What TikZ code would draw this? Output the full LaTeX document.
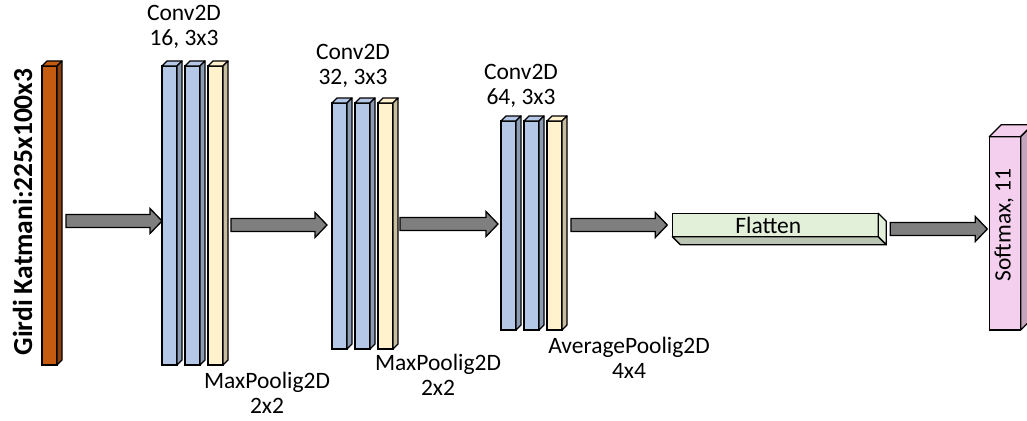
\documentclass[tikz,border=0pt]{standalone}
\usepackage{fontspec}
\setmainfont{Carlito}
\usetikzlibrary{calc}
\definecolor{inorange}{HTML}{C55A11}
\definecolor{convblue}{HTML}{B4C7E7}
\definecolor{poolyellow}{HTML}{FFF2CC}
\definecolor{flatgreen}{HTML}{E2F0D9}
\definecolor{softpink}{HTML}{F4D0EE}
\definecolor{arrowgrey}{HTML}{7F7F7F}
\tikzset{
  slab/.style={draw, line width=1.3pt, inner sep=0pt, outer sep=0pt, minimum width=15},
  face/.style={draw, line width=1.3pt, line join=round},
  barrow/.style={draw, line width=1.3pt, line join=miter, fill=arrowgrey},
  lbl/.style={font=\fontsize{23.5}{25}\selectfont, align=center, inner sep=0pt},
}
% block arrow: from node, to node, y, gap at start, gap at end
\newcommand{\barrow}[5]{%
  \draw[barrow] let \p1=([xshift=#4]#1.east), \p2=([xshift=-#5]#2.west), \p3=(0,#3) in
    (\x1,\y3+6.5pt) -- (\x2-12pt,\y3+6.5pt) -- (\x2-12pt,\y3+12.5pt) -- (\x2,\y3)
    -- (\x2-12pt,\y3-12.5pt) -- (\x2-12pt,\y3-6.5pt) -- (\x1,\y3-6.5pt) -- cycle;}
\begin{document}
\begin{tikzpicture}[x=1pt, y=-1pt]
  \useasboundingbox[fill=white] (0,0) rectangle (1027,420);
  % input layer
  \node[slab, fill=inorange, minimum height=299] (in) at (49.5,215.5) {};
  \draw[face, fill=inorange] (in.north west) -- ++(5,-5) -- ++(15,0) -- (in.north east) -- cycle;
  \draw[face, fill=inorange!70!black] (in.north east) -- ++(5,-5) -- ([shift={(5,-5)}]in.south east) -- (in.south east) -- cycle;
  \node[font=\fontsize{27.5}{30}\selectfont\bfseries, rotate=90] (intext) at (22.5,212) {Girdi Katmani:225x100x3};
  % conv blocks
  \foreach \n/\x/\t/\b in {1/162/66/365, 2/332/103/349, 3/501/121/330}{
    \foreach \k/\dx/\col in {a/0/convblue, b/23/convblue, c/46/poolyellow}{
      \node[slab, fill=\col, minimum height={\b-\t}] (c\n\k) at ({\x+\dx+7.5},{(\t+\b)/2}) {};
      \draw[face, fill=\col] (c\n\k.north west) -- ++(5,-5) -- ++(15,0) -- (c\n\k.north east) -- cycle;
      \draw[face, fill=\col!78!black] (c\n\k.north east) -- ++(5,-5) -- ([shift={(5,-5)}]c\n\k.south east) -- (c\n\k.south east) -- cycle;
    }
  }
  \node[lbl] (conv1) at (184,27) {Conv2D\\16, 3x3};
  \node[lbl] (conv2) at (353,66) {Conv2D\\32, 3x3};
  \node[lbl] (conv3) at (521,86) {Conv2D\\64, 3x3};
  \node[lbl] (pool1) at (267,393) {MaxPoolig2D\\2x2};
  \node[lbl] (pool2) at (438,375) {MaxPoolig2D\\2x2};
  \node[lbl] (pool3) at (629,358) {AveragePoolig2D\\4x4};
  % flatten
  \node[slab, fill=flatgreen, minimum width=206, minimum height=23.4, font=\fontsize{23.5}{26}\selectfont] (flat) at (775.3,225) {\hspace*{-14pt}Flatten};
  \draw[face, fill=flatgreen!82!black] (flat.south west) -- ++(8,8) -- ([shift={(8,8)}]flat.south east) -- (flat.south east) -- cycle;
  \draw[face, fill=flatgreen] (flat.north east) -- ++(8,8) -- ([shift={(8,8)}]flat.south east) -- (flat.south east) -- cycle;
  % softmax
  \node[slab, fill=softpink, minimum width=31.4, minimum height=193.3] (soft) at (1005,233.3) {};
  \draw[face, fill=softpink] (soft.north west) -- ++(12,-12) -- ++(31.4,0) -- (soft.north east) -- cycle;
  \draw[face, fill=softpink!80!black] (soft.north east) -- ++(12,-12) -- ([shift={(12,-12)}]soft.south east) -- (soft.south east) -- cycle;
  \node[lbl, rotate=90] (softtext) at (1004,225) {Softmax, 11};
  % arrows
  \barrow{in}{c1a}{221}{9}{0}
  \barrow{c1c}{c2a}{225}{8}{5}
  \barrow{c2c}{c3a}{224}{7}{3}
  \barrow{c3c}{flat}{225}{9}{5}
  \barrow{flat}{soft}{229}{12}{2}
\end{tikzpicture}
\end{document}
